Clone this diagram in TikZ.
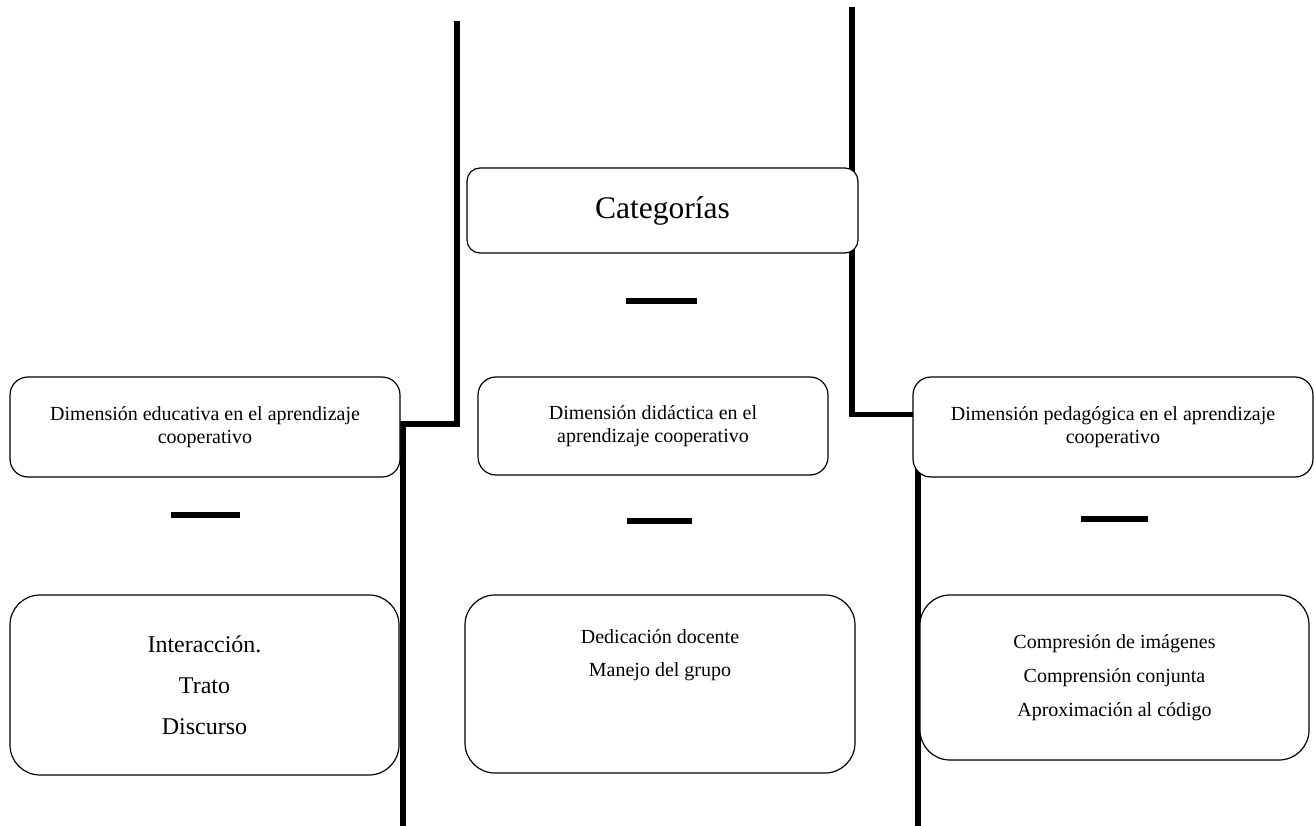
\documentclass[tikz,border=0pt]{standalone}
\usepackage{fontspec}
\setmainfont{Liberation Serif}
\usepackage{tikz}
\usetikzlibrary{positioning,calc}

\begin{document}
\begin{tikzpicture}[
        x=1pt, y=-1pt,
        headbox/.style={rectangle, draw=black, fill=white, line width=1.2pt, rounded corners=18pt, align=center, font=\fontsize{20}{23}\selectfont},
        listbox/.style={rectangle, draw=black, fill=white, line width=1.2pt, rounded corners=30pt, align=center},
        bar/.style={line width=5.5pt, black},
        dash bar/.style={line width=6pt, black}
    ]
        \useasboundingbox (0,0) rectangle (1314,826);

        % Vertical rails
        \coordinate (railatop) at (457,21);
        \coordinate (railabot) at (403,826);
        \coordinate (railbtop) at (852,7);
        \coordinate (railbbot) at (918,826);
        \draw[bar] (railatop) -- (railatop |- 0,424) -- (railabot |- 0,424) -- (railabot);
        \draw[bar] (railbtop) -- (railbtop |- 0,414.5) -- (railbbot |- 0,414.5) -- (railbbot);

        % Title
        \node[headbox, rounded corners=13pt, minimum width=391pt, minimum height=85pt, font=\fontsize{31.5}{34}\selectfont] (cat) at (662.5,210.5) {Categorías};

        % Dimensions
        \node[headbox, minimum width=390pt, minimum height=100pt] (eduhead) at (205,427) {Dimensión educativa en el aprendizaje\\cooperativo};
        \node[headbox, minimum width=350pt, minimum height=98pt] (didhead) at (653,426) {Dimensión didáctica en el\\aprendizaje cooperativo};
        \node[headbox, minimum width=400pt, minimum height=100pt] (pedhead) at (1113,427) {Dimensión pedagógica en el aprendizaje\\cooperativo};

        % Subcategories
        \node[listbox, minimum width=389pt, minimum height=180pt, font=\fontsize{24}{41}\selectfont] (edulist) at (204.5,685) {Interacción.\\Trato\\Discurso};
        \node[listbox, minimum width=390pt, minimum height=178pt, font=\fontsize{20}{33}\selectfont, text height=14pt, text depth=30pt] (didlist) at (660,684) {Dedicación docente\\Manejo del grupo};
        \node[listbox, minimum width=389pt, minimum height=165pt, font=\fontsize{20}{34}\selectfont] (pedlist) at (1114.5,677.5) {Compresión de imágenes\\Comprensión conjunta\\ Aproximación al código};

        % Short bars
        \coordinate (catbar) at (661.5,301);
        \coordinate (edubar) at (205.5,515);
        \coordinate (didbar) at (659.5,521);
        \coordinate (pedbar) at (1114,519);
        \draw[dash bar] ($(catbar)+(-35.5,0)$) -- ($(catbar)+(35.5,0)$);
        \draw[dash bar] ($(edubar)+(-34.5,0)$) -- ($(edubar)+(34.5,0)$);
        \draw[dash bar] ($(didbar)+(-32.5,0)$) -- ($(didbar)+(32.5,0)$);
        \draw[dash bar] ($(pedbar)+(-33.5,0)$) -- ($(pedbar)+(33.5,0)$);
    \end{tikzpicture}
\end{document}
